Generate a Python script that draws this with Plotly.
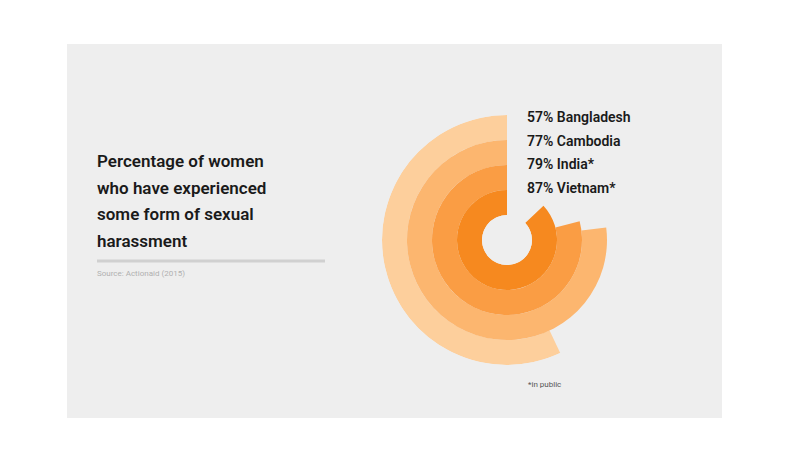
import plotly.graph_objects as go

countries = ["Bangladesh", "Cambodia", "India*", "Vietnam*"]
values = [57, 77, 79, 87]
colors = ["#fdcf9c", "#fcb66f", "#fa9d44", "#f6891f"]
bases = [3, 2, 1, 0]

fig = go.Figure()
for c, v, col, b in zip(countries, values, colors, bases):
    fig.add_trace(go.Barpolar(r=[1], base=[b], theta=[v * 3.6 / 2], width=[v * 3.6],
                              marker=dict(color=col, line=dict(width=0)), name=c,
                              hoverinfo="skip"))

W, H = 800, 467
O = 8  # page offset correction
def px(x): return (x - O) / W
def py(y): return (H - (y - O)) / H

fig.update_layout(
    width=W, height=H, margin=dict(l=0, r=0, t=0, b=0),
    paper_bgcolor="white", plot_bgcolor="white", showlegend=False,
    polar=dict(
        domain=dict(x=[px(382), px(632)], y=[py(365), py(115)]),
        bgcolor="rgba(0,0,0,0)", hole=0.2, bargap=0,
        angularaxis=dict(direction="counterclockwise", rotation=90, visible=False),
        radialaxis=dict(range=[0, 4], visible=False),
    ),
    shapes=[
        dict(type="rect", xref="paper", yref="paper", x0=px(67), x1=px(722),
             y0=py(418), y1=py(44), fillcolor="#eeeeee", line=dict(width=0), layer="below"),
        dict(type="line", xref="paper", yref="paper", x0=px(97), x1=px(325),
             y0=py(261), y1=py(261), line=dict(color="#d0d0d0", width=3)),
    ],
)

def ann(x, y, text, size, color="#222", weight="normal"):
    fig.add_annotation(xref="paper", yref="paper", x=px(x), y=py(y), text=text,
                       showarrow=False, xanchor="left", yanchor="middle",
                       font=dict(family="Roboto", size=size, color=color, weight=weight))

for i, line in enumerate(["Percentage of women", "who have experienced",
                          "some form of sexual", "harassment"]):
    ann(95, 161 + i * 26.5, line, 17, "#1a1a1a", 600)
ann(95, 273, "Source: Actionaid (2015)", 8, "#b0b0b0")
for i, (c, v) in enumerate(zip(countries, values)):
    ann(525, 117 + i * 23.5, f"{v}% {c}", 14, "#1a1a1a", 600)
ann(526, 384, "*in public", 8, "#555")

fig.write_html("out.html")
